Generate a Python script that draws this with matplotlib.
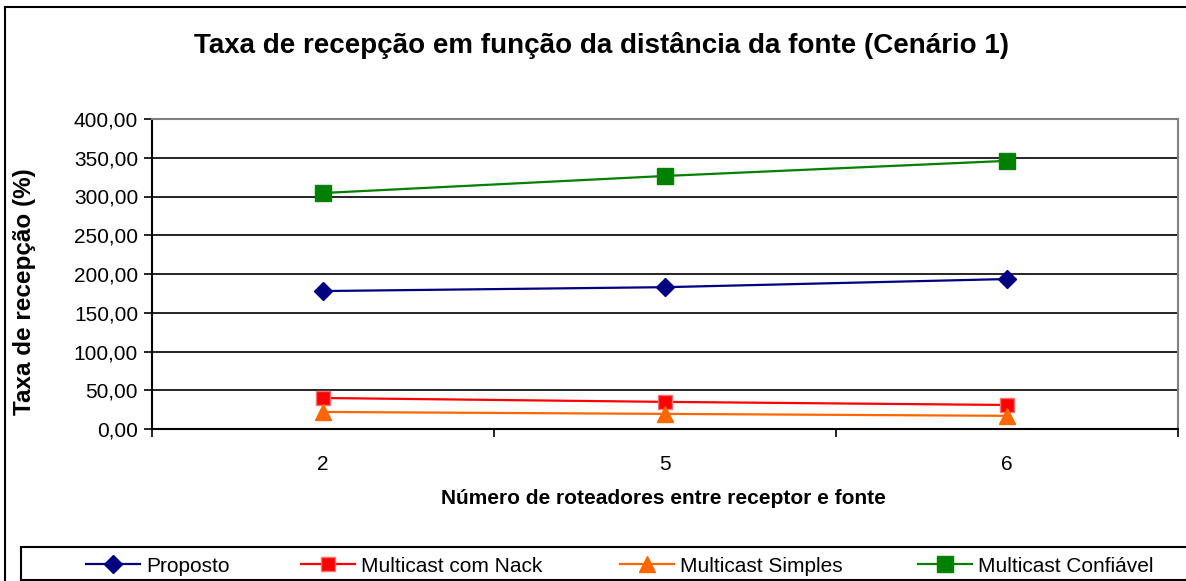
import numpy as np
import matplotlib.pyplot as plt
from matplotlib.lines import Line2D
from matplotlib.patches import Rectangle

plt.rcParams['font.family'] = ['Liberation Sans', 'DejaVu Sans']

categorias = ['2', '5', '6']
proposto = [178, 183, 193.5]
multicast_nack = [40, 35, 31]
multicast_simples = [22, 19.5, 17]
multicast_confiavel = [304.5, 326.5, 346]

W, H = 1186, 581
fig = plt.figure(figsize=(W/100, H/100), dpi=100)
ax = fig.add_axes([152/W, 1-429/H, (1178-152)/W, (429-119)/H])

x = np.arange(len(categorias))
l1, = ax.plot(x, proposto, color='#000080', marker='D', markersize=9, lw=1.6, label='Proposto')
l2, = ax.plot(x, multicast_nack, color='#ff0000', marker='s', markersize=10, lw=1.6,
              markerfacecolor='#ff0000', markeredgecolor='#ff7070', label='Multicast com Nack')
l3, = ax.plot(x, multicast_simples, color='#ff6600', marker='^', markersize=12, lw=1.6,
              label='Multicast Simples')
l4, = ax.plot(x, multicast_confiavel, color='#008000', marker='s', markersize=12, lw=1.6,
              label='Multicast Confiável')

ax.set_xlim(-0.5, 2.5)
ax.set_ylim(0, 400)
yt = np.arange(0, 401, 50)
ax.set_yticks(yt)
ax.set_yticklabels([f'{v:.2f}'.replace('.', ',') for v in yt], fontsize=15)
ax.set_xticks(x)
ax.set_xticklabels(categorias, fontsize=15)
ax.set_xticks([-0.5, 0.5, 1.5, 2.5], minor=True)
ax.tick_params(axis='x', which='major', length=0, pad=19)
ax.tick_params(axis='x', which='minor', length=6, width=1.2, direction='out')
ax.tick_params(axis='y', length=6, width=1.2, direction='out', pad=4)
ax.grid(axis='y', color='black', lw=1.2)
ax.set_axisbelow(True)
for s in ['top', 'right']:
    ax.spines[s].set_color('#808080')
    ax.spines[s].set_linewidth(1.5)
for s in ['left', 'bottom']:
    ax.spines[s].set_color('black')
    ax.spines[s].set_linewidth(1.5)

fig.text(663/W, 1-498/H, 'Número de roteadores entre receptor e fonte',
         ha='center', va='center', fontsize=15, fontweight='bold')
fig.text(25/W, 1-292/H, 'Taxa de recepção (%)', rotation=90,
         ha='center', va='center', fontsize=17.5, fontweight='bold')
fig.text(601/W, 1-53/H, 'Taxa de recepção em função da distância da fonte (Cenário 1)',
         ha='center', va='baseline', fontsize=20, fontweight='bold')

# borda externa do gráfico
fig.add_artist(Line2D([5/W, 5/W], [0, 1-7/H], color='black', lw=1.5))
fig.add_artist(Line2D([5/W, 1], [1-7/H, 1-7/H], color='black', lw=1.5))

# caixa da legenda
fig.add_artist(Rectangle((21/W, 1-580/H), 1.0, (580-547)/H, transform=fig.transFigure,
                         facecolor='white', edgecolor='black', lw=1.5))
inicio_legenda = [86, 301, 620, 918]
for h, xi in zip([l1, l2, l3, l4], inicio_legenda):
    fig.legend(handles=[h], loc='center left', bbox_to_anchor=(xi/W, 1-566/H),
               fontsize=15, handlelength=2.6, handletextpad=0.3, frameon=False,
               borderpad=0, borderaxespad=0)

fig.savefig('out.png', dpi=100)
